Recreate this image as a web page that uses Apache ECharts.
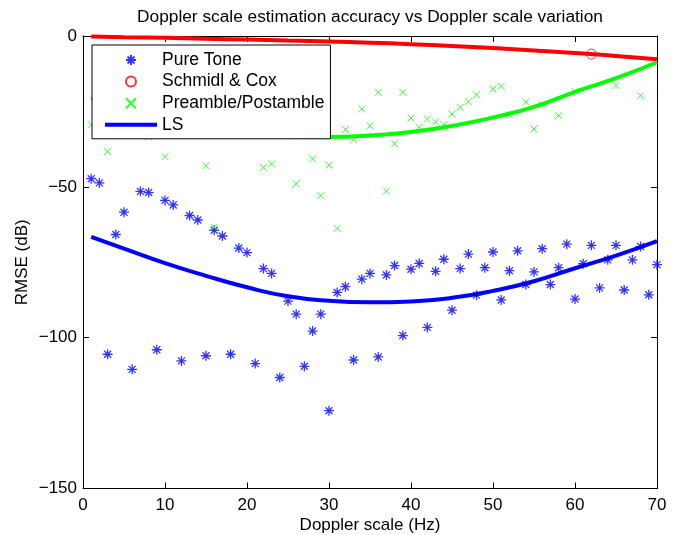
<html>
<head>
<meta charset="utf-8">
<title>Doppler scale estimation accuracy</title>
<script src="https://cdn.jsdelivr.net/npm/echarts/dist/echarts.min.js"></script>
</head>
<body style="margin:0;background:#fff">
<div id="main" style="width:679px;height:535px;"></div>
<script>
// doppler scale (Hz) for the point markers
var dopplerHz = [1,2,3,4,5,6,7,8,9,10,11,12,13,14,15,16,17,18,19,20,
	21,22,23,24,25,26,27,28,29,30,31,32,33,34,35,36,37,38,39,40,
	41,42,43,44,45,46,47,48,49,50,51,52,53,54,55,56,57,58,59,60,
	61,62,63,64,65,66,67,68,69,70];
// Pure Tone RMSE (dB), one per dopplerHz
var pureTone = [-47.3,-48.7,-105.5,-65.8,-58.4,-110.5,-51.5,-51.9,-104,-54.5,
	-56,-107.7,-59.5,-61,-106,-64.4,-66.3,-105.5,-70.3,-71.8,
	-108.6,-77.1,-78.7,-113.2,-87.9,-92.2,-109.5,-97.8,-92.2,-124.2,
	-85,-83.1,-107.4,-80.6,-78.7,-106.4,-79.2,-76.1,-99.3,-77.3,
	-75.4,-96.6,-78,-74,-90.9,-77.1,-72.3,-85.9,-76.8,-71.6,
	-87.5,-77.8,-71.2,-82.4,-78.2,-70.5,-82.4,-76.8,-69,-87.2,
	-75.5,-69.4,-83.5,-74.2,-69.4,-84.2,-74.2,-69.8,-85.8,-75.8];
// Schmidl & Cox (only one visible point)
var schmidlHz = [62];
var schmidl = [-6];
// Preamble/Postamble (visible points only)
var preambleHz = [1,3,8,10,15,16,22,23,26,28,29,30,31,32,33,34,35,36,37,38,
	39,40,41,42,43,44,45,46,47,48,50,51,52,54,55,56,58,60,65,68];
var preamble = [-29.4,-38.3,-33.5,-40,-43,-63.4,-43.6,-42.4,-49,-40.7,-52.9,-42.8,-63.8,-31,-34.4,-24.2,-29.8,-18.7,-51.4,-35.7,
	-18.7,-27.2,-30.3,-27.5,-28.5,-29.4,-25.9,-23.7,-21.8,-19.5,-17.6,-16.7,-26.1,-21.9,-30.8,-22.8,-26.4,-18.4,-16.4,-19.8];
// LS fitted curves
var lsHz = [1,5,10,15,20,25,30,35,40,45,50,55,60,65,70];
var lsPure = [-66.6,-70.5,-75.3,-79.5,-83.3,-86.3,-87.8,-88.3,-88,-86.8,-84.5,-81.3,-77,-72.8,-68];
var lsSchmidl = [-0.2,-0.4,-0.6,-0.9,-1.2,-1.5,-1.8,-2.2,-2.7,-3.3,-4,-4.8,-5.6,-6.6,-7.7];
var lsPreamble = [-20.5,-24,-27.3,-30,-32,-33.2,-33.5,-33,-31.8,-29.8,-27,-23.5,-18.5,-14,-8.7];
var xTicks = [0,10,20,30,40,50,60,70];
var yTicks = [-150,-100,-50,0];

function pairs(xs, ys){
	var out = [];
	for(var i=0;i<xs.length;i++){
		out.push([xs[i], ys[i]]);
	}
	return out;
}

var FONT = "'Liberation Sans', Arial, Helvetica, sans-serif";
var starPath = 'path://M5,0L5,10M0,5L10,5M1.5,1.5L8.5,8.5M8.5,1.5L1.5,8.5';
var crossPath = 'path://M0,0L10,10M10,0L0,10';

var myChart = echarts.init(document.getElementById('main'));

// 盒子边框 + 朝内刻度
function boxAxis(extra){
	var a = {
		nameMoveOverlap: false,
		axisLine: {show: true, onZero: false, lineStyle: {color: '#000', width: 1}},
		axisTick: {show: true, inside: true, length: 6, lineStyle: {color: '#000', width: 1}},
		splitLine: {show: false}
	};
	for(var k in extra){ a[k] = extra[k]; }
	return a;
}

option = {
	animation: false,
	backgroundColor: '#fff',
	textStyle: {fontFamily: FONT},
	title: {
		text: 'Doppler scale estimation accuracy vs Doppler scale variation',
		left: 365,
		top: 4,
		textAlign: 'center',
		textStyle: {fontSize: 17.3, fontWeight: 'normal', color: '#000', fontFamily: FONT}
	},
	grid: {left: 83, right: 22, top: 36, bottom: 46.5, containLabel: false, outerBoundsMode: 'none'},
	legend: {
		orient: 'vertical',
		left: 92,
		top: 45,
		padding: [6, 6, 5, 11],
		itemGap: 3.6,
		itemWidth: 52,
		itemHeight: 10,
		backgroundColor: '#fff',
		borderColor: '#000',
		borderWidth: 1,
		textStyle: {fontSize: 17.5, color: '#000', fontFamily: FONT},
		data: ['Pure Tone', 'Schmidl & Cox', 'Preamble/Postamble',
			{name: 'LS', itemStyle: {color: 'rgba(0,0,0,0)', borderWidth: 0},
				lineStyle: {color: '#0000ff', width: 4}}]
	},
	xAxis: [
		boxAxis({
			type: 'value', min: xTicks[0], max: xTicks[xTicks.length-1], interval: 10,
			name: 'Doppler scale (Hz)', nameLocation: 'middle', nameGap: 28,
			nameTextStyle: {fontSize: 17, color: '#000', fontFamily: FONT},
			axisLabel: {fontSize: 17, color: '#000', margin: 8, fontFamily: FONT}
		}),
		boxAxis({
			type: 'value', position: 'top', min: xTicks[0], max: xTicks[xTicks.length-1], interval: 10,
			axisLabel: {show: false}
		})
	],
	yAxis: [
		boxAxis({
			type: 'value', min: yTicks[0], max: yTicks[yTicks.length-1], interval: 50,
			name: 'RMSE (dB)', nameLocation: 'middle', nameGap: 52,
			nameTextStyle: {fontSize: 17, color: '#000', fontFamily: FONT},
			axisLabel: {fontSize: 17, color: '#000', margin: 6, fontFamily: FONT,
				formatter: function(v){ return v < 0 ? '\u2212' + (-v) : '' + v; }}
		}),
		boxAxis({
			type: 'value', position: 'right', min: yTicks[0], max: yTicks[yTicks.length-1], interval: 50,
			axisLabel: {show: false}
		})
	],
	series: [
		{
			name: 'Pure Tone', type: 'scatter',
			symbol: starPath, symbolSize: 10,
			itemStyle: {color: 'rgba(0,0,0,0)', borderColor: '#0000ff', borderWidth: 1.3},
			data: pairs(dopplerHz, pureTone), z: 3
		},
		{
			name: 'Schmidl & Cox', type: 'scatter',
			symbol: 'circle', symbolSize: 10,
			itemStyle: {color: 'rgba(0,0,0,0)', borderColor: '#ff0000', borderWidth: 1},
			data: pairs(schmidlHz, schmidl), z: 3
		},
		{
			name: 'Preamble/Postamble', type: 'scatter',
			symbol: crossPath, symbolSize: 7,
			itemStyle: {color: 'rgba(0,0,0,0)', borderColor: '#00ff00', borderWidth: 1},
			data: pairs(preambleHz, preamble), z: 3
		},
		{
			name: 'LS', type: 'line', smooth: true, symbol: 'none',
			lineStyle: {color: '#0000ff', width: 4},
			itemStyle: {color: '#0000ff'},
			data: pairs(lsHz, lsPure), z: 2
		},
		{
			name: 'LS Schmidl', type: 'line', smooth: true, symbol: 'none',
			lineStyle: {color: '#ff0000', width: 4},
			data: pairs(lsHz, lsSchmidl), z: 2
		},
		{
			name: 'LS Preamble', type: 'line', smooth: true, symbol: 'none',
			lineStyle: {color: '#00ff00', width: 4},
			data: pairs(lsHz, lsPreamble), z: 2
		}
	]
};

myChart.setOption(option);
</script>
</body>
</html>
